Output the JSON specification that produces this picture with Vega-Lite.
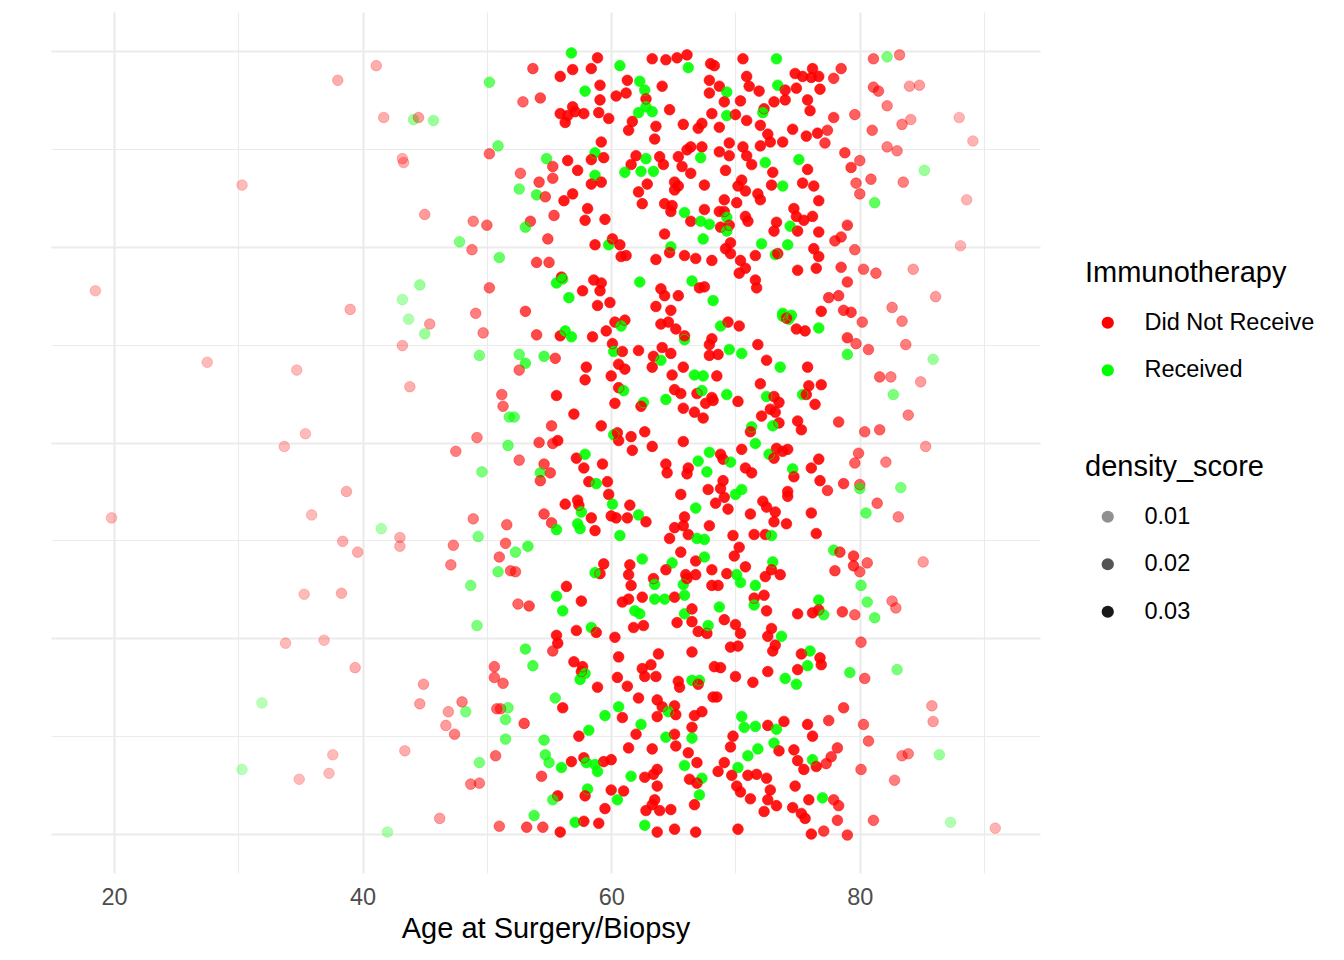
{
  "$schema": "https://vega.github.io/schema/vega-lite/v6.json",
  "width": 989,
  "height": 861,
  "autosize": {"type": "none"},
  "padding": {"left": 51, "top": 12, "right": 304, "bottom": 87},
  "background": "white",
  "config": {"font": "Liberation Sans", "view": {"stroke": null}},
  "datasets": {
    "groups": [
      {"g": "D", "Immunotherapy": "Did Not Receive"},
      {"g": "R", "Immunotherapy": "Received"}
    ]
  },
  "data": {"values": [
{"a":41.1,"y":1.385,"g":"D","d":0.005},{"a":38.0,"y":1.370,"g":"D","d":0.005},{"a":50.2,"y":1.368,"g":"R","d":0.017},{"a":41.7,"y":1.332,"g":"D","d":0.005},{"a":44.1,"y":1.330,"g":"R","d":0.008},{"a":44.5,"y":1.332,"g":"D","d":0.008},{"a":45.7,"y":1.329,"g":"R","d":0.008},{"a":50.9,"y":1.303,"g":"R","d":0.017},{"a":50.2,"y":1.295,"g":"D","d":0.017},{"a":43.2,"y":1.290,"g":"D","d":0.005},{"a":43.3,"y":1.286,"g":"D","d":0.005},{"a":30.3,"y":1.263,"g":"D","d":0.003},{"a":45.0,"y":1.233,"g":"D","d":0.008},{"a":48.9,"y":1.226,"g":"D","d":0.013},{"a":50.0,"y":1.222,"g":"D","d":0.017},{"a":47.8,"y":1.205,"g":"R","d":0.013},{"a":48.8,"y":1.197,"g":"D","d":0.013},{"a":51.0,"y":1.189,"g":"R","d":0.017},{"a":18.5,"y":1.155,"g":"D","d":0.003},{"a":44.6,"y":1.161,"g":"R","d":0.008},{"a":43.2,"y":1.146,"g":"R","d":0.005},{"a":39.0,"y":1.136,"g":"D","d":0.005},{"a":50.2,"y":1.158,"g":"D","d":0.017},{"a":43.7,"y":1.126,"g":"R","d":0.005},{"a":45.4,"y":1.121,"g":"D","d":0.008},{"a":45.0,"y":1.111,"g":"R","d":0.008},{"a":49.1,"y":1.132,"g":"D","d":0.013},{"a":49.7,"y":1.112,"g":"D","d":0.013},{"a":43.2,"y":1.099,"g":"D","d":0.005},{"a":49.4,"y":1.089,"g":"R","d":0.013},{"a":27.5,"y":1.082,"g":"D","d":0.003},{"a":34.7,"y":1.074,"g":"D","d":0.003},{"a":43.8,"y":1.057,"g":"D","d":0.005},{"a":51.2,"y":1.049,"g":"D","d":0.017},{"a":51.3,"y":1.037,"g":"D","d":0.017},{"a":35.4,"y":1.009,"g":"D","d":0.003},{"a":49.2,"y":1.005,"g":"D","d":0.013},{"a":33.7,"y":0.996,"g":"D","d":0.003},{"a":47.5,"y":0.991,"g":"D","d":0.013},{"a":51.8,"y":1.026,"g":"R","d":0.017},{"a":51.7,"y":0.997,"g":"R","d":0.017},{"a":49.6,"y":0.970,"g":"R","d":0.013},{"a":38.7,"y":0.950,"g":"D","d":0.005},{"a":35.9,"y":0.926,"g":"D","d":0.003},{"a":19.8,"y":0.923,"g":"D","d":0.003},{"a":41.5,"y":0.912,"g":"R","d":0.005},{"a":43.0,"y":0.903,"g":"D","d":0.005},{"a":43.0,"y":0.894,"g":"D","d":0.005},{"a":38.4,"y":0.899,"g":"D","d":0.005},{"a":39.6,"y":0.888,"g":"D","d":0.005},{"a":48.9,"y":0.922,"g":"D","d":0.013},{"a":49.3,"y":0.904,"g":"R","d":0.013},{"a":47.3,"y":0.895,"g":"D","d":0.013},{"a":47.1,"y":0.875,"g":"D","d":0.013},{"a":51.6,"y":0.916,"g":"D","d":0.017},{"a":51.5,"y":0.897,"g":"D","d":0.017},{"a":51.0,"y":0.883,"g":"D","d":0.017},{"a":50.9,"y":0.868,"g":"R","d":0.017},{"a":51.9,"y":0.869,"g":"D","d":0.017},{"a":48.7,"y":0.854,"g":"R","d":0.013},{"a":35.3,"y":0.845,"g":"D","d":0.003},{"a":38.3,"y":0.846,"g":"D","d":0.005},{"a":49.2,"y":0.813,"g":"R","d":0.013},{"a":33.8,"y":0.795,"g":"D","d":0.003},{"a":36.9,"y":0.798,"g":"D","d":0.003},{"a":39.4,"y":0.770,"g":"D","d":0.005},{"a":50.6,"y":0.771,"g":"D","d":0.017},{"a":50.6,"y":0.760,"g":"D","d":0.017},{"a":51.3,"y":0.754,"g":"D","d":0.017},{"a":44.9,"y":0.753,"g":"D","d":0.008},{"a":44.6,"y":0.733,"g":"D","d":0.008},{"a":48.0,"y":0.735,"g":"D","d":0.013},{"a":46.9,"y":0.725,"g":"D","d":0.008},{"a":48.3,"y":0.725,"g":"R","d":0.013},{"a":46.7,"y":0.711,"g":"D","d":0.008},{"a":47.4,"y":0.702,"g":"D","d":0.013},{"a":31.9,"y":0.734,"g":"R","d":0.003},{"a":50.8,"y":0.728,"g":"D","d":0.017},{"a":51.1,"y":0.728,"g":"D","d":0.017},{"a":51.7,"y":0.729,"g":"R","d":0.017},{"a":51.5,"y":0.717,"g":"R","d":0.017},{"a":51.5,"y":0.697,"g":"R","d":0.017},{"a":37.6,"y":0.681,"g":"D","d":0.003},{"a":43.4,"y":0.685,"g":"D","d":0.005},{"a":50.7,"y":0.680,"g":"D","d":0.017},{"a":49.4,"y":0.673,"g":"R","d":0.013},{"a":30.3,"y":0.666,"g":"R","d":0.003},{"a":34.9,"y":0.656,"g":"D","d":0.003},{"a":37.3,"y":0.662,"g":"D","d":0.003},{"a":48.7,"y":0.651,"g":"D","d":0.013},{"a":49.4,"y":0.652,"g":"D","d":0.013},{"a":46.2,"y":0.616,"g":"D","d":0.008},{"a":51.0,"y":0.608,"g":"D","d":0.017},{"a":42.0,"y":0.602,"g":"R","d":0.005},
{"a":56.8,"y":1.398,"g":"R","d":0.03},{"a":58.9,"y":1.393,"g":"D","d":0.03},{"a":53.7,"y":1.382,"g":"D","d":0.022},{"a":56.9,"y":1.381,"g":"D","d":0.03},{"a":58.4,"y":1.382,"g":"D","d":0.03},{"a":55.9,"y":1.374,"g":"D","d":0.03},{"a":60.7,"y":1.385,"g":"R","d":0.03},{"a":63.3,"y":1.392,"g":"D","d":0.03},{"a":64.4,"y":1.391,"g":"D","d":0.03},{"a":65.3,"y":1.393,"g":"D","d":0.03},{"a":66.1,"y":1.396,"g":"D","d":0.03},{"a":66.2,"y":1.383,"g":"R","d":0.03},{"a":68.0,"y":1.387,"g":"D","d":0.03},{"a":59.1,"y":1.365,"g":"D","d":0.03},{"a":57.9,"y":1.359,"g":"R","d":0.03},{"a":61.3,"y":1.370,"g":"D","d":0.03},{"a":62.3,"y":1.369,"g":"R","d":0.03},{"a":62.7,"y":1.360,"g":"R","d":0.03},{"a":64.1,"y":1.364,"g":"D","d":0.03},{"a":61.2,"y":1.357,"g":"D","d":0.03},{"a":60.4,"y":1.354,"g":"D","d":0.03},{"a":62.8,"y":1.351,"g":"D","d":0.03},{"a":67.9,"y":1.370,"g":"D","d":0.03},{"a":67.9,"y":1.357,"g":"D","d":0.03},{"a":52.9,"y":1.348,"g":"D","d":0.017},{"a":54.3,"y":1.352,"g":"D","d":0.022},{"a":59.1,"y":1.350,"g":"D","d":0.03},{"a":56.9,"y":1.343,"g":"D","d":0.03},{"a":55.9,"y":1.336,"g":"D","d":0.03},{"a":56.5,"y":1.334,"g":"D","d":0.03},{"a":57.1,"y":1.338,"g":"D","d":0.03},{"a":57.8,"y":1.336,"g":"D","d":0.03},{"a":56.3,"y":1.327,"g":"D","d":0.03},{"a":59.0,"y":1.337,"g":"D","d":0.03},{"a":59.8,"y":1.331,"g":"D","d":0.03},{"a":62.2,"y":1.337,"g":"R","d":0.03},{"a":63.3,"y":1.338,"g":"R","d":0.03},{"a":62.8,"y":1.343,"g":"R","d":0.03},{"a":61.7,"y":1.328,"g":"D","d":0.03},{"a":61.4,"y":1.319,"g":"D","d":0.03},{"a":63.6,"y":1.323,"g":"D","d":0.03},{"a":63.5,"y":1.310,"g":"D","d":0.03},{"a":64.7,"y":1.340,"g":"D","d":0.03},{"a":65.8,"y":1.325,"g":"D","d":0.03},{"a":67.0,"y":1.321,"g":"D","d":0.03},{"a":67.3,"y":1.326,"g":"D","d":0.03},{"a":68.1,"y":1.336,"g":"D","d":0.03},{"a":59.2,"y":1.307,"g":"D","d":0.03},{"a":58.7,"y":1.296,"g":"R","d":0.03},{"a":59.4,"y":1.291,"g":"D","d":0.03},{"a":58.4,"y":1.289,"g":"D","d":0.03},{"a":54.8,"y":1.290,"g":"R","d":0.022},{"a":56.5,"y":1.288,"g":"D","d":0.03},{"a":57.3,"y":1.278,"g":"D","d":0.03},{"a":55.3,"y":1.282,"g":"D","d":0.022},{"a":52.7,"y":1.275,"g":"D","d":0.017},{"a":55.3,"y":1.270,"g":"D","d":0.022},{"a":54.2,"y":1.266,"g":"D","d":0.022},{"a":52.6,"y":1.259,"g":"R","d":0.017},{"a":54.0,"y":1.253,"g":"R","d":0.022},{"a":54.7,"y":1.251,"g":"D","d":0.022},{"a":58.7,"y":1.273,"g":"R","d":0.03},{"a":58.4,"y":1.264,"g":"D","d":0.03},{"a":59.2,"y":1.266,"g":"D","d":0.03},{"a":56.2,"y":1.247,"g":"D","d":0.03},{"a":56.9,"y":1.254,"g":"D","d":0.03},{"a":62.0,"y":1.293,"g":"D","d":0.03},{"a":61.6,"y":1.284,"g":"D","d":0.03},{"a":62.8,"y":1.290,"g":"R","d":0.03},{"a":63.9,"y":1.292,"g":"D","d":0.03},{"a":64.2,"y":1.284,"g":"D","d":0.03},{"a":61.1,"y":1.276,"g":"R","d":0.03},{"a":62.4,"y":1.277,"g":"R","d":0.03},{"a":63.4,"y":1.277,"g":"R","d":0.03},{"a":62.9,"y":1.264,"g":"D","d":0.03},{"a":62.2,"y":1.256,"g":"D","d":0.03},{"a":62.5,"y":1.244,"g":"D","d":0.03},{"a":65.4,"y":1.292,"g":"D","d":0.03},{"a":66.1,"y":1.299,"g":"D","d":0.03},{"a":65.7,"y":1.282,"g":"D","d":0.03},{"a":66.4,"y":1.302,"g":"D","d":0.03},{"a":67.3,"y":1.302,"g":"D","d":0.03},{"a":67.2,"y":1.291,"g":"R","d":0.03},{"a":66.4,"y":1.275,"g":"D","d":0.03},{"a":65.1,"y":1.266,"g":"D","d":0.03},{"a":65.4,"y":1.262,"g":"D","d":0.03},{"a":65.1,"y":1.258,"g":"D","d":0.03},{"a":67.5,"y":1.263,"g":"D","d":0.03},{"a":64.3,"y":1.244,"g":"D","d":0.03},{"a":64.9,"y":1.242,"g":"D","d":0.03},{"a":64.8,"y":1.236,"g":"D","d":0.03},{"a":65.9,"y":1.235,"g":"R","d":0.03},{"a":66.4,"y":1.226,"g":"D","d":0.03},{"a":67.5,"y":1.238,"g":"D","d":0.03},{"a":67.2,"y":1.226,"g":"R","d":0.03},{"a":67.9,"y":1.223,"g":"R","d":0.03},{"a":67.4,"y":1.208,"g":"R","d":0.03},{"a":58.1,"y":1.239,"g":"D","d":0.03},{"a":57.9,"y":1.227,"g":"D","d":0.03},{"a":59.5,"y":1.228,"g":"D","d":0.03},{"a":55.4,"y":1.232,"g":"D","d":0.022},{"a":53.5,"y":1.226,"g":"D","d":0.022},{"a":53.1,"y":1.220,"g":"R","d":0.022},{"a":54.9,"y":1.208,"g":"D","d":0.022},{"a":58.7,"y":1.202,"g":"D","d":0.03},{"a":59.8,"y":1.202,"g":"R","d":0.03},{"a":60.1,"y":1.208,"g":"D","d":0.03},{"a":60.7,"y":1.202,"g":"D","d":0.03},{"a":60.8,"y":1.190,"g":"D","d":0.03},{"a":61.2,"y":1.191,"g":"D","d":0.03},{"a":64.3,"y":1.213,"g":"D","d":0.03},{"a":64.8,"y":1.200,"g":"R","d":0.03},{"a":64.7,"y":1.194,"g":"D","d":0.03},{"a":63.6,"y":1.187,"g":"D","d":0.03},{"a":65.9,"y":1.191,"g":"D","d":0.03},{"a":66.8,"y":1.188,"g":"D","d":0.03},{"a":68.1,"y":1.186,"g":"D","d":0.03},{"a":54.0,"y":1.184,"g":"D","d":0.022},{"a":55.0,"y":1.184,"g":"D","d":0.022},{"a":56.0,"y":1.169,"g":"D","d":0.03},{"a":55.6,"y":1.163,"g":"R","d":0.03},{"a":56.1,"y":1.167,"g":"R","d":0.03},{"a":58.6,"y":1.166,"g":"D","d":0.03},{"a":59.2,"y":1.163,"g":"D","d":0.03},{"a":57.7,"y":1.155,"g":"D","d":0.03},{"a":59.1,"y":1.155,"g":"D","d":0.03},{"a":56.6,"y":1.148,"g":"R","d":0.03},{"a":58.9,"y":1.140,"g":"D","d":0.03},{"a":59.9,"y":1.143,"g":"D","d":0.03},{"a":53.1,"y":1.134,"g":"D","d":0.022},{"a":62.3,"y":1.164,"g":"R","d":0.03},{"a":66.5,"y":1.165,"g":"R","d":0.03},{"a":64.0,"y":1.157,"g":"D","d":0.03},{"a":64.3,"y":1.150,"g":"D","d":0.03},{"a":65.4,"y":1.150,"g":"D","d":0.03},{"a":67.1,"y":1.158,"g":"D","d":0.03},{"a":67.5,"y":1.159,"g":"D","d":0.03},{"a":63.6,"y":1.139,"g":"D","d":0.03},{"a":64.8,"y":1.135,"g":"D","d":0.03},{"a":68.2,"y":1.145,"g":"R","d":0.03},
{"a":68.3,"y":1.385,"g":"D","d":0.03},{"a":70.6,"y":1.392,"g":"D","d":0.03},{"a":73.3,"y":1.392,"g":"R","d":0.03},{"a":68.7,"y":1.364,"g":"D","d":0.03},{"a":69.3,"y":1.358,"g":"R","d":0.03},{"a":69.1,"y":1.348,"g":"D","d":0.03},{"a":70.9,"y":1.374,"g":"D","d":0.03},{"a":71.1,"y":1.364,"g":"D","d":0.03},{"a":71.9,"y":1.359,"g":"D","d":0.03},{"a":70.4,"y":1.349,"g":"D","d":0.03},{"a":73.4,"y":1.365,"g":"R","d":0.03},{"a":74.0,"y":1.360,"g":"D","d":0.03},{"a":74.8,"y":1.377,"g":"D","d":0.03},{"a":75.4,"y":1.374,"g":"D","d":0.03},{"a":76.2,"y":1.382,"g":"D","d":0.03},{"a":76.1,"y":1.373,"g":"D","d":0.03},{"a":76.7,"y":1.374,"g":"D","d":0.03},{"a":74.9,"y":1.362,"g":"D","d":0.03},{"a":76.8,"y":1.361,"g":"D","d":0.03},{"a":77.9,"y":1.372,"g":"D","d":0.024},{"a":78.5,"y":1.382,"g":"D","d":0.024},{"a":81.1,"y":1.392,"g":"D","d":0.018},{"a":82.2,"y":1.394,"g":"R","d":0.013},{"a":83.2,"y":1.396,"g":"D","d":0.013},{"a":81.1,"y":1.363,"g":"D","d":0.018},{"a":81.5,"y":1.359,"g":"D","d":0.018},{"a":84.0,"y":1.364,"g":"D","d":0.008},{"a":82.2,"y":1.344,"g":"D","d":0.013},{"a":74.0,"y":1.350,"g":"D","d":0.03},{"a":73.1,"y":1.348,"g":"D","d":0.03},{"a":72.3,"y":1.341,"g":"D","d":0.03},{"a":72.2,"y":1.337,"g":"R","d":0.03},{"a":75.8,"y":1.350,"g":"D","d":0.03},{"a":76.0,"y":1.339,"g":"D","d":0.03},{"a":69.3,"y":1.334,"g":"R","d":0.03},{"a":70.0,"y":1.335,"g":"D","d":0.03},{"a":70.9,"y":1.329,"g":"D","d":0.03},{"a":72.0,"y":1.324,"g":"D","d":0.03},{"a":68.7,"y":1.322,"g":"D","d":0.03},{"a":74.6,"y":1.320,"g":"D","d":0.03},{"a":72.6,"y":1.315,"g":"D","d":0.03},{"a":75.7,"y":1.313,"g":"D","d":0.03},{"a":76.6,"y":1.316,"g":"D","d":0.03},{"a":77.4,"y":1.319,"g":"D","d":0.024},{"a":77.2,"y":1.306,"g":"D","d":0.024},{"a":77.9,"y":1.332,"g":"D","d":0.024},{"a":79.6,"y":1.335,"g":"D","d":0.018},{"a":81.0,"y":1.319,"g":"D","d":0.018},{"a":83.4,"y":1.325,"g":"D","d":0.013},{"a":84.1,"y":1.330,"g":"D","d":0.008},{"a":82.2,"y":1.302,"g":"D","d":0.013},{"a":83.0,"y":1.298,"g":"D","d":0.013},{"a":73.8,"y":1.307,"g":"D","d":0.03},{"a":72.8,"y":1.307,"g":"D","d":0.03},{"a":72.0,"y":1.303,"g":"D","d":0.03},{"a":69.5,"y":1.306,"g":"D","d":0.03},{"a":70.6,"y":1.302,"g":"D","d":0.03},{"a":68.7,"y":1.297,"g":"D","d":0.03},{"a":69.5,"y":1.293,"g":"D","d":0.03},{"a":70.9,"y":1.293,"g":"D","d":0.03},{"a":71.3,"y":1.284,"g":"D","d":0.03},{"a":72.4,"y":1.286,"g":"R","d":0.03},{"a":75.1,"y":1.289,"g":"R","d":0.03},{"a":75.8,"y":1.279,"g":"D","d":0.03},{"a":78.8,"y":1.296,"g":"D","d":0.024},{"a":80.0,"y":1.288,"g":"D","d":0.018},{"a":79.3,"y":1.281,"g":"D","d":0.024},{"a":69.2,"y":1.278,"g":"D","d":0.03},{"a":73.0,"y":1.276,"g":"D","d":0.03},{"a":70.5,"y":1.268,"g":"D","d":0.03},{"a":70.2,"y":1.262,"g":"D","d":0.03},{"a":70.8,"y":1.257,"g":"D","d":0.03},{"a":73.8,"y":1.262,"g":"R","d":0.03},{"a":72.9,"y":1.263,"g":"D","d":0.03},{"a":75.4,"y":1.265,"g":"D","d":0.03},{"a":76.3,"y":1.262,"g":"D","d":0.03},{"a":79.7,"y":1.265,"g":"D","d":0.018},{"a":80.0,"y":1.254,"g":"D","d":0.018},{"a":80.9,"y":1.269,"g":"D","d":0.018},{"a":83.5,"y":1.266,"g":"D","d":0.013},{"a":81.2,"y":1.245,"g":"R","d":0.018},{"a":76.7,"y":1.247,"g":"D","d":0.03},{"a":71.8,"y":1.254,"g":"D","d":0.03},{"a":72.0,"y":1.248,"g":"D","d":0.03},{"a":69.1,"y":1.248,"g":"D","d":0.03},{"a":70.1,"y":1.245,"g":"D","d":0.03},{"a":69.1,"y":1.236,"g":"D","d":0.03},{"a":68.7,"y":1.236,"g":"D","d":0.03},{"a":69.3,"y":1.230,"g":"R","d":0.03},{"a":70.8,"y":1.231,"g":"D","d":0.03},{"a":71.0,"y":1.226,"g":"D","d":0.03},{"a":69.5,"y":1.222,"g":"D","d":0.03},{"a":68.8,"y":1.220,"g":"D","d":0.03},{"a":69.3,"y":1.216,"g":"R","d":0.03},{"a":74.7,"y":1.239,"g":"D","d":0.03},{"a":74.9,"y":1.231,"g":"D","d":0.03},{"a":75.5,"y":1.227,"g":"D","d":0.03},{"a":76.2,"y":1.231,"g":"D","d":0.03},{"a":73.3,"y":1.225,"g":"D","d":0.03},{"a":74.4,"y":1.221,"g":"R","d":0.03},{"a":73.1,"y":1.216,"g":"D","d":0.03},{"a":75.0,"y":1.216,"g":"D","d":0.03},{"a":76.7,"y":1.215,"g":"D","d":0.03},{"a":79.0,"y":1.222,"g":"D","d":0.024},{"a":78.5,"y":1.210,"g":"D","d":0.024},{"a":78.0,"y":1.206,"g":"D","d":0.024},{"a":69.6,"y":1.204,"g":"D","d":0.03},{"a":69.2,"y":1.198,"g":"D","d":0.03},{"a":69.6,"y":1.193,"g":"D","d":0.03},{"a":72.1,"y":1.203,"g":"R","d":0.03},{"a":74.2,"y":1.202,"g":"R","d":0.03},{"a":73.2,"y":1.192,"g":"R","d":0.03},{"a":73.4,"y":1.193,"g":"D","d":0.03},{"a":71.6,"y":1.191,"g":"D","d":0.03},{"a":70.4,"y":1.186,"g":"D","d":0.03},{"a":70.8,"y":1.178,"g":"D","d":0.03},{"a":70.3,"y":1.173,"g":"D","d":0.03},{"a":76.3,"y":1.198,"g":"D","d":0.03},{"a":76.7,"y":1.190,"g":"D","d":0.03},{"a":76.5,"y":1.178,"g":"D","d":0.03},{"a":75.0,"y":1.176,"g":"D","d":0.03},{"a":79.6,"y":1.197,"g":"D","d":0.018},{"a":78.5,"y":1.179,"g":"D","d":0.024},{"a":80.3,"y":1.177,"g":"D","d":0.018},{"a":81.3,"y":1.173,"g":"D","d":0.018},{"a":84.3,"y":1.177,"g":"D","d":0.008},{"a":79.0,"y":1.164,"g":"D","d":0.024},{"a":71.6,"y":1.166,"g":"D","d":0.03},{"a":71.7,"y":1.158,"g":"D","d":0.03},{"a":77.5,"y":1.148,"g":"D","d":0.024},{"a":78.3,"y":1.150,"g":"D","d":0.024},{"a":78.7,"y":1.135,"g":"D","d":0.024},{"a":79.3,"y":1.133,"g":"D","d":0.024},{"a":76.9,"y":1.134,"g":"D","d":0.03},{"a":82.6,"y":1.138,"g":"D","d":0.013},{"a":73.8,"y":1.132,"g":"R","d":0.03},{"a":74.5,"y":1.130,"g":"R","d":0.03},
{"a":84.8,"y":1.365,"g":"D","d":0.008},{"a":88.0,"y":1.332,"g":"D","d":0.004},{"a":89.1,"y":1.308,"g":"D","d":0.004},{"a":85.2,"y":1.278,"g":"R","d":0.008},{"a":88.6,"y":1.248,"g":"D","d":0.004},{"a":88.1,"y":1.201,"g":"D","d":0.004},{"a":86.1,"y":1.149,"g":"D","d":0.008},{"a":85.9,"y":1.085,"g":"R","d":0.008},{"a":84.9,"y":1.062,"g":"D","d":0.008},{"a":85.3,"y":0.996,"g":"D","d":0.008},{"a":85.1,"y":0.878,"g":"D","d":0.008},{"a":85.8,"y":0.731,"g":"D","d":0.008},{"a":85.9,"y":0.715,"g":"D","d":0.008},{"a":86.4,"y":0.681,"g":"R","d":0.008},{"a":87.3,"y":0.612,"g":"R","d":0.004},{"a":90.9,"y":0.606,"g":"D","d":0.004},
{"a":54.0,"y":1.110,"g":"D","d":0.022},{"a":55.9,"y":1.109,"g":"D","d":0.03},{"a":56.3,"y":1.114,"g":"R","d":0.03},{"a":56.8,"y":1.108,"g":"R","d":0.03},{"a":58.5,"y":1.108,"g":"D","d":0.03},{"a":59.6,"y":1.114,"g":"D","d":0.03},{"a":60.3,"y":1.123,"g":"D","d":0.03},{"a":61.1,"y":1.125,"g":"D","d":0.03},{"a":60.8,"y":1.119,"g":"R","d":0.03},{"a":64.0,"y":1.121,"g":"D","d":0.03},{"a":64.6,"y":1.123,"g":"D","d":0.03},{"a":65.2,"y":1.116,"g":"D","d":0.03},{"a":65.9,"y":1.105,"g":"R","d":0.03},{"a":65.9,"y":1.109,"g":"D","d":0.03},{"a":60.1,"y":1.101,"g":"D","d":0.03},{"a":60.2,"y":1.093,"g":"R","d":0.03},{"a":60.9,"y":1.093,"g":"D","d":0.03},{"a":62.2,"y":1.094,"g":"D","d":0.03},{"a":64.1,"y":1.097,"g":"D","d":0.03},{"a":63.4,"y":1.088,"g":"D","d":0.03},{"a":64.0,"y":1.084,"g":"R","d":0.03},{"a":64.8,"y":1.091,"g":"D","d":0.03},{"a":63.3,"y":1.077,"g":"D","d":0.03},{"a":65.8,"y":1.077,"g":"D","d":0.03},{"a":64.9,"y":1.069,"g":"D","d":0.03},{"a":67.9,"y":1.100,"g":"D","d":0.03},{"a":67.9,"y":1.089,"g":"D","d":0.03},{"a":52.6,"y":1.090,"g":"R","d":0.017},{"a":53.1,"y":1.081,"g":"R","d":0.022},{"a":52.6,"y":1.074,"g":"D","d":0.017},{"a":54.6,"y":1.088,"g":"R","d":0.022},{"a":55.5,"y":1.086,"g":"D","d":0.022},{"a":58.0,"y":1.077,"g":"D","d":0.03},{"a":57.9,"y":1.064,"g":"D","d":0.03},{"a":60.6,"y":1.080,"g":"D","d":0.03},{"a":61.1,"y":1.075,"g":"D","d":0.03},{"a":60.0,"y":1.068,"g":"D","d":0.03},{"a":60.6,"y":1.056,"g":"D","d":0.03},{"a":61.0,"y":1.053,"g":"R","d":0.03},{"a":66.7,"y":1.069,"g":"R","d":0.03},{"a":67.4,"y":1.068,"g":"R","d":0.03},{"a":65.1,"y":1.054,"g":"D","d":0.03},{"a":65.6,"y":1.050,"g":"D","d":0.03},{"a":66.9,"y":1.050,"g":"D","d":0.03},{"a":67.3,"y":1.053,"g":"R","d":0.03},{"a":68.1,"y":1.046,"g":"D","d":0.03},{"a":67.6,"y":1.040,"g":"D","d":0.03},{"a":64.4,"y":1.044,"g":"R","d":0.03},{"a":65.8,"y":1.035,"g":"D","d":0.03},{"a":66.7,"y":1.031,"g":"D","d":0.03},{"a":67.4,"y":1.025,"g":"D","d":0.03},{"a":55.6,"y":1.048,"g":"D","d":0.03},{"a":62.6,"y":1.041,"g":"R","d":0.03},{"a":62.4,"y":1.037,"g":"D","d":0.03},{"a":60.3,"y":1.040,"g":"D","d":0.03},{"a":52.2,"y":1.026,"g":"R","d":0.017},{"a":57.0,"y":1.029,"g":"D","d":0.03},{"a":55.2,"y":1.017,"g":"D","d":0.022},{"a":59.2,"y":1.017,"g":"D","d":0.03},{"a":60.2,"y":1.008,"g":"R","d":0.03},{"a":60.5,"y":1.010,"g":"D","d":0.03},{"a":60.6,"y":1.002,"g":"D","d":0.03},{"a":61.6,"y":1.006,"g":"D","d":0.03},{"a":62.7,"y":1.011,"g":"D","d":0.03},{"a":61.7,"y":0.992,"g":"D","d":0.03},{"a":63.3,"y":0.996,"g":"D","d":0.03},{"a":65.8,"y":1.001,"g":"D","d":0.03},{"a":54.2,"y":1.000,"g":"D","d":0.022},{"a":55.3,"y":0.999,"g":"D","d":0.022},{"a":55.7,"y":1.002,"g":"D","d":0.03},{"a":52.6,"y":0.982,"g":"D","d":0.017},{"a":54.6,"y":0.978,"g":"D","d":0.022},{"a":54.3,"y":0.969,"g":"R","d":0.022},{"a":55.1,"y":0.969,"g":"D","d":0.022},{"a":54.3,"y":0.961,"g":"D","d":0.022},{"a":57.2,"y":0.984,"g":"D","d":0.03},{"a":57.9,"y":0.988,"g":"R","d":0.03},{"a":57.8,"y":0.974,"g":"D","d":0.03},{"a":59.3,"y":0.978,"g":"D","d":0.03},{"a":58.2,"y":0.960,"g":"D","d":0.03},{"a":58.8,"y":0.958,"g":"R","d":0.03},{"a":59.7,"y":0.960,"g":"D","d":0.03},{"a":59.8,"y":0.947,"g":"D","d":0.03},{"a":60.1,"y":0.937,"g":"R","d":0.03},{"a":56.3,"y":0.937,"g":"D","d":0.03},{"a":57.3,"y":0.941,"g":"D","d":0.03},{"a":57.4,"y":0.936,"g":"D","d":0.03},{"a":57.6,"y":0.929,"g":"R","d":0.03},{"a":54.6,"y":0.927,"g":"D","d":0.022},{"a":55.2,"y":0.918,"g":"D","d":0.022},{"a":55.6,"y":0.911,"g":"R","d":0.03},{"a":57.3,"y":0.917,"g":"R","d":0.03},{"a":57.5,"y":0.912,"g":"R","d":0.03},{"a":58.4,"y":0.923,"g":"D","d":0.03},{"a":58.7,"y":0.910,"g":"D","d":0.03},{"a":61.5,"y":0.936,"g":"D","d":0.03},{"a":60.0,"y":0.925,"g":"D","d":0.03},{"a":60.4,"y":0.923,"g":"D","d":0.03},{"a":61.3,"y":0.923,"g":"D","d":0.03},{"a":62.2,"y":0.926,"g":"R","d":0.03},{"a":62.8,"y":0.919,"g":"D","d":0.03},{"a":60.7,"y":0.905,"g":"R","d":0.03},{"a":64.4,"y":0.978,"g":"D","d":0.03},{"a":64.5,"y":0.969,"g":"D","d":0.03},{"a":66.2,"y":0.974,"g":"D","d":0.03},{"a":66.1,"y":0.968,"g":"D","d":0.03},{"a":67.0,"y":0.981,"g":"R","d":0.03},{"a":67.7,"y":0.970,"g":"R","d":0.03},{"a":67.9,"y":0.990,"g":"R","d":0.03},{"a":65.6,"y":0.947,"g":"D","d":0.03},{"a":67.8,"y":0.952,"g":"D","d":0.03},{"a":66.8,"y":0.933,"g":"R","d":0.03},{"a":65.9,"y":0.924,"g":"D","d":0.03},{"a":65.1,"y":0.913,"g":"D","d":0.03},{"a":65.8,"y":0.915,"g":"D","d":0.03},{"a":66.2,"y":0.906,"g":"D","d":0.03},{"a":64.7,"y":0.902,"g":"D","d":0.03},{"a":66.9,"y":0.902,"g":"R","d":0.03},{"a":67.5,"y":0.901,"g":"R","d":0.03},{"a":67.9,"y":0.915,"g":"D","d":0.03},{"a":65.6,"y":0.888,"g":"D","d":0.03},{"a":64.9,"y":0.877,"g":"R","d":0.03},{"a":64.4,"y":0.870,"g":"D","d":0.03},{"a":66.8,"y":0.879,"g":"D","d":0.03},{"a":67.5,"y":0.883,"g":"R","d":0.03},{"a":66.0,"y":0.865,"g":"D","d":0.03},{"a":66.8,"y":0.865,"g":"D","d":0.03},{"a":68.1,"y":0.870,"g":"D","d":0.03},{"a":62.5,"y":0.881,"g":"R","d":0.03},{"a":61.5,"y":0.875,"g":"D","d":0.03},{"a":61.4,"y":0.865,"g":"D","d":0.03},{"a":63.4,"y":0.861,"g":"D","d":0.03},{"a":59.4,"y":0.876,"g":"D","d":0.03},{"a":59.1,"y":0.866,"g":"D","d":0.03},{"a":58.7,"y":0.867,"g":"R","d":0.03},{"a":52.3,"y":0.888,"g":"R","d":0.017},{"a":53.3,"y":0.894,"g":"R","d":0.022},{"a":52.3,"y":0.868,"g":"D","d":0.017},
{"a":68.8,"y":1.119,"g":"R","d":0.03},{"a":69.4,"y":1.123,"g":"D","d":0.03},{"a":70.3,"y":1.119,"g":"D","d":0.03},{"a":68.1,"y":1.106,"g":"D","d":0.03},{"a":68.6,"y":1.090,"g":"D","d":0.03},{"a":69.5,"y":1.095,"g":"R","d":0.03},{"a":70.5,"y":1.091,"g":"R","d":0.03},{"a":71.8,"y":1.100,"g":"D","d":0.03},{"a":72.5,"y":1.084,"g":"D","d":0.03},{"a":73.6,"y":1.077,"g":"R","d":0.03},{"a":73.8,"y":1.129,"g":"R","d":0.03},{"a":74.3,"y":1.126,"g":"R","d":0.03},{"a":74.1,"y":1.127,"g":"D","d":0.03},{"a":74.9,"y":1.116,"g":"D","d":0.03},{"a":75.6,"y":1.114,"g":"D","d":0.03},{"a":76.7,"y":1.117,"g":"R","d":0.03},{"a":80.2,"y":1.123,"g":"D","d":0.018},{"a":79.0,"y":1.107,"g":"D","d":0.024},{"a":79.7,"y":1.101,"g":"D","d":0.018},{"a":80.7,"y":1.095,"g":"D","d":0.018},{"a":79.0,"y":1.090,"g":"R","d":0.024},{"a":83.4,"y":1.124,"g":"D","d":0.013},{"a":83.7,"y":1.100,"g":"D","d":0.013},{"a":75.8,"y":1.077,"g":"D","d":0.03},{"a":68.5,"y":1.068,"g":"D","d":0.03},{"a":72.0,"y":1.060,"g":"D","d":0.03},{"a":75.9,"y":1.058,"g":"D","d":0.03},{"a":76.9,"y":1.059,"g":"D","d":0.03},{"a":75.4,"y":1.049,"g":"R","d":0.03},{"a":75.7,"y":1.049,"g":"D","d":0.03},{"a":76.4,"y":1.039,"g":"D","d":0.03},{"a":81.6,"y":1.067,"g":"D","d":0.018},{"a":82.5,"y":1.067,"g":"D","d":0.013},{"a":82.7,"y":1.049,"g":"R","d":0.013},{"a":83.9,"y":1.028,"g":"D","d":0.013},{"a":78.3,"y":1.021,"g":"D","d":0.024},{"a":80.4,"y":1.011,"g":"D","d":0.018},{"a":81.6,"y":1.013,"g":"D","d":0.018},{"a":69.3,"y":1.049,"g":"R","d":0.03},{"a":68.2,"y":1.043,"g":"D","d":0.03},{"a":70.2,"y":1.042,"g":"D","d":0.03},{"a":72.5,"y":1.047,"g":"R","d":0.03},{"a":73.1,"y":1.047,"g":"D","d":0.03},{"a":73.5,"y":1.041,"g":"D","d":0.03},{"a":72.8,"y":1.034,"g":"D","d":0.03},{"a":72.1,"y":1.027,"g":"D","d":0.03},{"a":73.2,"y":1.031,"g":"D","d":0.03},{"a":73.5,"y":1.020,"g":"D","d":0.03},{"a":73.0,"y":1.017,"g":"R","d":0.03},{"a":75.0,"y":1.022,"g":"D","d":0.03},{"a":75.3,"y":1.013,"g":"D","d":0.03},{"a":71.3,"y":1.016,"g":"R","d":0.03},{"a":71.2,"y":1.011,"g":"D","d":0.03},{"a":71.6,"y":0.999,"g":"R","d":0.03},{"a":70.5,"y":0.993,"g":"D","d":0.03},{"a":68.8,"y":0.988,"g":"D","d":0.03},{"a":69.0,"y":0.983,"g":"D","d":0.03},{"a":69.6,"y":0.980,"g":"R","d":0.03},{"a":72.7,"y":0.988,"g":"R","d":0.03},{"a":73.3,"y":0.994,"g":"D","d":0.03},{"a":74.2,"y":0.993,"g":"D","d":0.03},{"a":73.1,"y":0.984,"g":"D","d":0.03},{"a":73.8,"y":0.991,"g":"D","d":0.03},{"a":70.8,"y":0.974,"g":"D","d":0.03},{"a":71.3,"y":0.969,"g":"D","d":0.03},{"a":74.6,"y":0.973,"g":"R","d":0.03},{"a":74.7,"y":0.965,"g":"D","d":0.03},{"a":76.1,"y":0.974,"g":"D","d":0.03},{"a":76.7,"y":0.983,"g":"D","d":0.03},{"a":76.8,"y":0.961,"g":"D","d":0.03},{"a":77.4,"y":0.951,"g":"D","d":0.024},{"a":78.7,"y":0.958,"g":"D","d":0.024},{"a":79.9,"y":0.989,"g":"D","d":0.018},{"a":79.6,"y":0.979,"g":"D","d":0.018},{"a":82.1,"y":0.980,"g":"D","d":0.013},{"a":80.0,"y":0.957,"g":"D","d":0.018},{"a":80.0,"y":0.953,"g":"R","d":0.018},{"a":83.3,"y":0.954,"g":"R","d":0.013},{"a":81.4,"y":0.938,"g":"D","d":0.018},{"a":83.1,"y":0.924,"g":"D","d":0.013},{"a":80.5,"y":0.928,"g":"R","d":0.018},{"a":69.0,"y":0.961,"g":"D","d":0.03},{"a":68.8,"y":0.953,"g":"D","d":0.03},{"a":68.4,"y":0.938,"g":"D","d":0.03},{"a":69.1,"y":0.944,"g":"D","d":0.03},{"a":69.4,"y":0.932,"g":"D","d":0.03},{"a":70.0,"y":0.947,"g":"R","d":0.03},{"a":70.5,"y":0.952,"g":"R","d":0.03},{"a":72.2,"y":0.940,"g":"D","d":0.03},{"a":72.5,"y":0.934,"g":"D","d":0.03},{"a":73.2,"y":0.929,"g":"D","d":0.03},{"a":73.1,"y":0.919,"g":"D","d":0.03},{"a":74.1,"y":0.917,"g":"D","d":0.03},{"a":74.2,"y":0.950,"g":"D","d":0.03},{"a":74.2,"y":0.945,"g":"D","d":0.03},{"a":71.2,"y":0.927,"g":"D","d":0.03},{"a":76.1,"y":0.928,"g":"D","d":0.03},{"a":76.5,"y":0.907,"g":"D","d":0.03},{"a":71.5,"y":0.906,"g":"D","d":0.03},{"a":72.4,"y":0.906,"g":"D","d":0.03},{"a":72.9,"y":0.905,"g":"R","d":0.03},{"a":69.8,"y":0.905,"g":"D","d":0.03},{"a":70.3,"y":0.893,"g":"D","d":0.03},{"a":69.9,"y":0.884,"g":"D","d":0.03},{"a":70.8,"y":0.873,"g":"D","d":0.03},{"a":73.0,"y":0.878,"g":"R","d":0.03},{"a":72.9,"y":0.870,"g":"D","d":0.03},{"a":73.6,"y":0.865,"g":"D","d":0.03},{"a":72.4,"y":0.863,"g":"D","d":0.03},{"a":69.3,"y":0.866,"g":"D","d":0.03},{"a":70.1,"y":0.865,"g":"R","d":0.03},{"a":77.9,"y":0.890,"g":"R","d":0.024},{"a":78.4,"y":0.888,"g":"D","d":0.024},{"a":79.5,"y":0.884,"g":"D","d":0.024},{"a":80.6,"y":0.877,"g":"D","d":0.018},{"a":79.5,"y":0.874,"g":"D","d":0.024},{"a":80.0,"y":0.868,"g":"D","d":0.018},{"a":78.0,"y":0.869,"g":"D","d":0.024},
{"a":56.4,"y":0.853,"g":"D","d":0.03},{"a":55.6,"y":0.843,"g":"R","d":0.03},{"a":52.5,"y":0.835,"g":"D","d":0.017},{"a":53.4,"y":0.833,"g":"D","d":0.022},{"a":57.6,"y":0.838,"g":"D","d":0.03},{"a":56.1,"y":0.828,"g":"R","d":0.03},{"a":61.6,"y":0.854,"g":"D","d":0.03},{"a":60.9,"y":0.837,"g":"D","d":0.03},{"a":61.4,"y":0.840,"g":"D","d":0.03},{"a":62.5,"y":0.842,"g":"D","d":0.03},{"a":63.5,"y":0.855,"g":"R","d":0.03},{"a":63.5,"y":0.840,"g":"R","d":0.03},{"a":64.3,"y":0.840,"g":"R","d":0.03},{"a":65.1,"y":0.842,"g":"D","d":0.03},{"a":65.8,"y":0.855,"g":"R","d":0.03},{"a":65.9,"y":0.844,"g":"R","d":0.03},{"a":66.1,"y":0.861,"g":"D","d":0.03},{"a":68.1,"y":0.854,"g":"D","d":0.03},{"a":61.9,"y":0.828,"g":"R","d":0.03},{"a":62.3,"y":0.825,"g":"R","d":0.03},{"a":61.8,"y":0.811,"g":"D","d":0.03},{"a":62.6,"y":0.813,"g":"D","d":0.03},{"a":65.9,"y":0.825,"g":"R","d":0.03},{"a":66.5,"y":0.830,"g":"D","d":0.03},{"a":65.3,"y":0.816,"g":"D","d":0.03},{"a":66.5,"y":0.817,"g":"D","d":0.03},{"a":67.0,"y":0.807,"g":"D","d":0.03},{"a":67.7,"y":0.805,"g":"D","d":0.03},{"a":67.8,"y":0.813,"g":"R","d":0.03},{"a":55.6,"y":0.803,"g":"D","d":0.03},{"a":55.7,"y":0.795,"g":"D","d":0.03},{"a":55.3,"y":0.787,"g":"D","d":0.022},{"a":57.2,"y":0.808,"g":"D","d":0.03},{"a":58.4,"y":0.811,"g":"R","d":0.03},{"a":58.8,"y":0.806,"g":"D","d":0.03},{"a":60.3,"y":0.801,"g":"D","d":0.03},{"a":53.1,"y":0.789,"g":"R","d":0.022},{"a":53.7,"y":0.772,"g":"R","d":0.022},{"a":57.0,"y":0.776,"g":"D","d":0.03},{"a":57.7,"y":0.771,"g":"D","d":0.03},{"a":57.6,"y":0.766,"g":"D","d":0.03},{"a":57.9,"y":0.764,"g":"R","d":0.03},{"a":57.5,"y":0.758,"g":"R","d":0.03},{"a":58.9,"y":0.750,"g":"D","d":0.03},{"a":60.6,"y":0.781,"g":"D","d":0.03},{"a":60.5,"y":0.760,"g":"D","d":0.03},{"a":61.3,"y":0.751,"g":"D","d":0.03},{"a":63.8,"y":0.784,"g":"D","d":0.03},{"a":66.5,"y":0.786,"g":"D","d":0.03},{"a":62.5,"y":0.769,"g":"D","d":0.03},{"a":63.2,"y":0.773,"g":"D","d":0.03},{"a":62.7,"y":0.761,"g":"D","d":0.03},{"a":63.6,"y":0.761,"g":"D","d":0.03},{"a":65.4,"y":0.756,"g":"D","d":0.03},{"a":65.5,"y":0.750,"g":"D","d":0.03},{"a":66.5,"y":0.757,"g":"R","d":0.03},{"a":67.1,"y":0.757,"g":"R","d":0.03},{"a":67.0,"y":0.753,"g":"D","d":0.03},{"a":68.3,"y":0.771,"g":"D","d":0.03},{"a":62.2,"y":0.739,"g":"D","d":0.03},{"a":63.7,"y":0.737,"g":"D","d":0.03},{"a":64.1,"y":0.730,"g":"D","d":0.03},{"a":65.1,"y":0.731,"g":"D","d":0.03},{"a":64.6,"y":0.725,"g":"R","d":0.03},{"a":65.2,"y":0.722,"g":"D","d":0.03},{"a":63.7,"y":0.720,"g":"D","d":0.03},{"a":67.3,"y":0.725,"g":"D","d":0.03},{"a":66.7,"y":0.721,"g":"D","d":0.03},{"a":68.2,"y":0.740,"g":"D","d":0.03},{"a":55.5,"y":0.739,"g":"R","d":0.022},{"a":56.1,"y":0.729,"g":"D","d":0.03},{"a":53.0,"y":0.713,"g":"D","d":0.022},{"a":60.6,"y":0.730,"g":"R","d":0.03},{"a":60.9,"y":0.719,"g":"D","d":0.03},{"a":59.5,"y":0.721,"g":"R","d":0.03},{"a":62.4,"y":0.712,"g":"R","d":0.03},{"a":62.0,"y":0.702,"g":"D","d":0.03},{"a":66.5,"y":0.709,"g":"D","d":0.03},{"a":64.4,"y":0.699,"g":"R","d":0.03},{"a":65.1,"y":0.702,"g":"D","d":0.03},{"a":65.2,"y":0.690,"g":"D","d":0.03},{"a":66.5,"y":0.698,"g":"R","d":0.03},{"a":58.2,"y":0.706,"g":"R","d":0.03},{"a":57.4,"y":0.700,"g":"D","d":0.03},{"a":54.6,"y":0.696,"g":"R","d":0.022},{"a":54.7,"y":0.681,"g":"R","d":0.022},{"a":55.0,"y":0.673,"g":"R","d":0.022},{"a":56.0,"y":0.668,"g":"R","d":0.03},{"a":54.4,"y":0.659,"g":"D","d":0.022},{"a":56.8,"y":0.674,"g":"D","d":0.03},{"a":57.8,"y":0.678,"g":"D","d":0.03},{"a":58.0,"y":0.673,"g":"R","d":0.03},{"a":58.7,"y":0.671,"g":"R","d":0.03},{"a":58.9,"y":0.664,"g":"R","d":0.03},{"a":59.4,"y":0.674,"g":"D","d":0.03},{"a":60.0,"y":0.676,"g":"D","d":0.03},{"a":61.4,"y":0.688,"g":"D","d":0.03},{"a":63.3,"y":0.687,"g":"D","d":0.03},{"a":66.2,"y":0.683,"g":"D","d":0.03},{"a":66.9,"y":0.673,"g":"D","d":0.03},{"a":65.9,"y":0.670,"g":"R","d":0.03},{"a":67.3,"y":0.657,"g":"R","d":0.03},{"a":66.3,"y":0.656,"g":"D","d":0.03},{"a":66.9,"y":0.652,"g":"D","d":0.03},{"a":61.6,"y":0.659,"g":"R","d":0.03},{"a":62.7,"y":0.658,"g":"D","d":0.03},{"a":63.7,"y":0.666,"g":"D","d":0.03},{"a":63.4,"y":0.661,"g":"D","d":0.03},{"a":63.7,"y":0.649,"g":"D","d":0.03},{"a":60.0,"y":0.645,"g":"D","d":0.03},{"a":61.0,"y":0.644,"g":"D","d":0.03},{"a":60.5,"y":0.635,"g":"R","d":0.03},{"a":58.1,"y":0.646,"g":"R","d":0.03},{"a":57.9,"y":0.639,"g":"D","d":0.03},{"a":55.7,"y":0.639,"g":"D","d":0.03},{"a":55.3,"y":0.635,"g":"R","d":0.022},{"a":59.5,"y":0.626,"g":"D","d":0.03},{"a":63.5,"y":0.635,"g":"D","d":0.03},{"a":63.3,"y":0.630,"g":"D","d":0.03},{"a":62.8,"y":0.624,"g":"D","d":0.03},{"a":63.9,"y":0.624,"g":"D","d":0.03},{"a":64.8,"y":0.625,"g":"D","d":0.03},{"a":66.7,"y":0.630,"g":"D","d":0.03},{"a":67.1,"y":0.640,"g":"R","d":0.03},{"a":53.8,"y":0.619,"g":"R","d":0.022},{"a":53.2,"y":0.607,"g":"D","d":0.022},{"a":54.5,"y":0.607,"g":"D","d":0.022},{"a":55.9,"y":0.602,"g":"D","d":0.03},{"a":57.1,"y":0.612,"g":"R","d":0.03},{"a":57.8,"y":0.613,"g":"D","d":0.03},{"a":59.0,"y":0.611,"g":"D","d":0.03},{"a":62.7,"y":0.609,"g":"R","d":0.03},{"a":63.7,"y":0.602,"g":"D","d":0.03},{"a":65.1,"y":0.605,"g":"D","d":0.03},{"a":66.8,"y":0.602,"g":"D","d":0.03},
{"a":70.4,"y":0.857,"g":"R","d":0.03},{"a":68.6,"y":0.854,"g":"D","d":0.03},{"a":71.6,"y":0.854,"g":"R","d":0.03},{"a":71.5,"y":0.841,"g":"D","d":0.03},{"a":72.3,"y":0.844,"g":"D","d":0.03},{"a":71.5,"y":0.834,"g":"R","d":0.03},{"a":68.7,"y":0.832,"g":"R","d":0.03},{"a":72.5,"y":0.828,"g":"D","d":0.03},{"a":69.1,"y":0.819,"g":"D","d":0.03},{"a":70.0,"y":0.814,"g":"D","d":0.03},{"a":70.4,"y":0.805,"g":"D","d":0.03},{"a":69.6,"y":0.791,"g":"D","d":0.03},{"a":70.2,"y":0.792,"g":"D","d":0.03},{"a":72.9,"y":0.810,"g":"D","d":0.03},{"a":72.6,"y":0.802,"g":"D","d":0.03},{"a":73.7,"y":0.802,"g":"R","d":0.03},{"a":73.2,"y":0.793,"g":"D","d":0.03},{"a":73.0,"y":0.787,"g":"D","d":0.03},{"a":75.0,"y":0.825,"g":"D","d":0.03},{"a":76.2,"y":0.826,"g":"D","d":0.03},{"a":76.7,"y":0.839,"g":"R","d":0.03},{"a":76.7,"y":0.829,"g":"D","d":0.03},{"a":77.1,"y":0.824,"g":"R","d":0.024},{"a":78.6,"y":0.827,"g":"D","d":0.024},{"a":79.6,"y":0.824,"g":"D","d":0.018},{"a":80.1,"y":0.854,"g":"R","d":0.018},{"a":80.6,"y":0.837,"g":"R","d":0.018},{"a":81.2,"y":0.821,"g":"R","d":0.018},{"a":82.6,"y":0.838,"g":"D","d":0.013},{"a":82.9,"y":0.831,"g":"D","d":0.013},{"a":80.1,"y":0.796,"g":"D","d":0.018},{"a":76.0,"y":0.787,"g":"R","d":0.03},{"a":75.3,"y":0.784,"g":"D","d":0.03},{"a":76.8,"y":0.780,"g":"D","d":0.03},{"a":76.9,"y":0.773,"g":"D","d":0.03},{"a":75.8,"y":0.772,"g":"R","d":0.03},{"a":75.0,"y":0.768,"g":"D","d":0.03},{"a":74.0,"y":0.759,"g":"R","d":0.03},{"a":74.9,"y":0.753,"g":"R","d":0.03},{"a":72.6,"y":0.766,"g":"D","d":0.03},{"a":71.4,"y":0.755,"g":"D","d":0.03},{"a":70.0,"y":0.761,"g":"D","d":0.03},{"a":68.8,"y":0.770,"g":"D","d":0.03},{"a":79.2,"y":0.765,"g":"R","d":0.024},{"a":80.4,"y":0.759,"g":"D","d":0.018},{"a":83.0,"y":0.768,"g":"R","d":0.013},{"a":68.5,"y":0.740,"g":"D","d":0.03},{"a":78.7,"y":0.729,"g":"D","d":0.024},{"a":77.5,"y":0.716,"g":"D","d":0.024},{"a":80.3,"y":0.712,"g":"D","d":0.018},{"a":80.7,"y":0.695,"g":"D","d":0.018},{"a":75.8,"y":0.712,"g":"D","d":0.03},{"a":76.2,"y":0.700,"g":"D","d":0.03},{"a":73.9,"y":0.715,"g":"D","d":0.03},{"a":72.6,"y":0.711,"g":"D","d":0.03},{"a":73.3,"y":0.707,"g":"R","d":0.03},{"a":70.5,"y":0.720,"g":"R","d":0.03},{"a":70.7,"y":0.709,"g":"R","d":0.03},{"a":71.6,"y":0.710,"g":"R","d":0.03},{"a":69.8,"y":0.700,"g":"D","d":0.03},{"a":69.6,"y":0.689,"g":"D","d":0.03},{"a":73.1,"y":0.693,"g":"R","d":0.03},{"a":73.5,"y":0.685,"g":"D","d":0.03},{"a":71.8,"y":0.687,"g":"R","d":0.03},{"a":71.0,"y":0.680,"g":"R","d":0.03},{"a":70.2,"y":0.668,"g":"R","d":0.03},{"a":69.1,"y":0.673,"g":"D","d":0.03},{"a":68.6,"y":0.664,"g":"D","d":0.03},{"a":69.7,"y":0.660,"g":"D","d":0.03},{"a":70.1,"y":0.649,"g":"D","d":0.03},{"a":70.4,"y":0.643,"g":"D","d":0.03},{"a":71.0,"y":0.660,"g":"D","d":0.03},{"a":71.7,"y":0.661,"g":"D","d":0.03},{"a":72.5,"y":0.657,"g":"D","d":0.03},{"a":71.2,"y":0.636,"g":"D","d":0.03},{"a":72.8,"y":0.645,"g":"D","d":0.03},{"a":72.6,"y":0.635,"g":"D","d":0.03},{"a":73.3,"y":0.629,"g":"D","d":0.03},{"a":72.3,"y":0.623,"g":"D","d":0.03},{"a":74.7,"y":0.686,"g":"D","d":0.03},{"a":75.0,"y":0.675,"g":"D","d":0.03},{"a":75.5,"y":0.666,"g":"D","d":0.03},{"a":76.2,"y":0.676,"g":"R","d":0.03},{"a":76.5,"y":0.669,"g":"D","d":0.03},{"a":77.3,"y":0.672,"g":"D","d":0.024},{"a":77.7,"y":0.679,"g":"D","d":0.024},{"a":78.2,"y":0.688,"g":"D","d":0.024},{"a":74.8,"y":0.649,"g":"D","d":0.03},{"a":75.9,"y":0.635,"g":"D","d":0.03},{"a":77.0,"y":0.637,"g":"R","d":0.03},{"a":77.9,"y":0.635,"g":"D","d":0.024},{"a":78.3,"y":0.629,"g":"D","d":0.024},{"a":74.6,"y":0.627,"g":"D","d":0.03},{"a":75.3,"y":0.621,"g":"D","d":0.03},{"a":75.6,"y":0.616,"g":"D","d":0.03},{"a":78.2,"y":0.614,"g":"D","d":0.024},{"a":76.1,"y":0.600,"g":"D","d":0.03},{"a":77.1,"y":0.603,"g":"D","d":0.024},{"a":79.0,"y":0.599,"g":"D","d":0.024},{"a":70.2,"y":0.605,"g":"D","d":0.03},{"a":80.1,"y":0.666,"g":"D","d":0.018},{"a":81.1,"y":0.614,"g":"D","d":0.018},{"a":82.8,"y":0.655,"g":"D","d":0.013},{"a":83.4,"y":0.680,"g":"D","d":0.013},{"a":83.9,"y":0.682,"g":"D","d":0.013}
  ]},
  "transform": [
    {"lookup": "g", "from": {"data": {"name": "groups"}, "key": "g", "fields": ["Immunotherapy"]}}
  ],
  "encoding": {
    "x": {
      "field": "a",
      "type": "quantitative",
      "title": "Age at Surgery/Biopsy",
      "scale": {"domain": [14.93, 94.5], "nice": false, "zero": false},
      "axis": {
        "values": [20, 30, 40, 50, 60, 70, 80, 90],
        "labelExpr": "datum.value % 20 === 0 ? datum.label : ''",
        "grid": true,
        "gridColor": "#EBEBEB",
        "gridWidth": {"condition": {"test": "datum.value % 20 === 0", "value": 2.2}, "value": 1.1},
        "domain": false,
        "ticks": false,
        "labelFontSize": 23.5,
        "labelColor": "#4D4D4D",
        "labelPadding": 12,
        "labelFlush": false,
        "labelOverlap": false,
        "titleFontSize": 29,
        "titleFontWeight": "normal",
        "titleColor": "black",
        "titlePadding": 6
      }
    },
    "y": {
      "field": "y",
      "type": "quantitative",
      "title": null,
      "scale": {"domain": [0.5602, 1.4398], "nice": false, "zero": false},
      "axis": {
        "values": [0.6, 0.7, 0.8, 0.9, 1.0, 1.1, 1.2, 1.3, 1.4],
        "labels": false,
        "ticks": false,
        "domain": false,
        "grid": true,
        "gridColor": "#EBEBEB",
        "gridWidth": {"condition": {"test": "indexof([0.6, 0.8, 1, 1.2, 1.4], datum.value) >= 0", "value": 2.2}, "value": 1.1}
      }
    }
  },
  "layer": [
    {
      "mark": {"type": "point", "filled": true, "size": 113, "strokeWidth": 0},
      "encoding": {
        "color": {
          "field": "Immunotherapy",
          "type": "nominal",
          "scale": {"domain": ["Did Not Receive", "Received"], "range": ["#FF0000", "#00FF00"]},
          "legend": {
            "orient": "none",
            "legendX": 1034,
            "legendY": 247,
            "title": "Immunotherapy",
            "titleFontSize": 29,
            "titleFontWeight": "normal",
            "titleColor": "black",
            "titlePadding": 23,
            "titleLimit": 400,
            "labelFontSize": 23.5,
            "labelColor": "black",
            "labelLimit": 400,
            "symbolType": "circle",
            "symbolSize": 150,
            "symbolStrokeWidth": 0,
            "symbolOpacity": 1,
            "rowPadding": 22.5,
            "symbolOffset": 11,
            "labelOffset": 25
          }
        },
        "opacity": {
          "field": "d",
          "type": "quantitative",
          "title": "density_score",
          "scale": {"domain": [0, 0.034], "range": [0.2, 1]},
          "legend": {
            "orient": "none",
            "legendX": 1034,
            "legendY": 441,
            "values": [0.01, 0.02, 0.03],
            "format": ".2f",
            "titleFontSize": 29,
            "titleFontWeight": "normal",
            "titleColor": "black",
            "titlePadding": 23,
            "titleLimit": 400,
            "labelFontSize": 23.5,
            "labelColor": "black",
            "labelLimit": 400,
            "symbolType": "circle",
            "symbolSize": 150,
            "symbolFillColor": "#000000",
            "symbolStrokeWidth": 0,
            "rowPadding": 22.5,
            "symbolOffset": 11,
            "labelOffset": 25
          }
        }
      }
    },
    {
      "mark": {"type": "point", "filled": false, "size": 113, "strokeWidth": 1},
      "encoding": {
        "stroke": {
          "field": "Immunotherapy",
          "type": "nominal",
          "scale": {"domain": ["Did Not Receive", "Received"], "range": ["#FF0000", "#00FF00"]},
          "legend": null
        },
        "strokeOpacity": {
          "field": "d",
          "type": "quantitative",
          "scale": {"domain": [0, 0.034], "range": [0.2, 1]},
          "legend": null
        }
      }
    }
  ]
}
